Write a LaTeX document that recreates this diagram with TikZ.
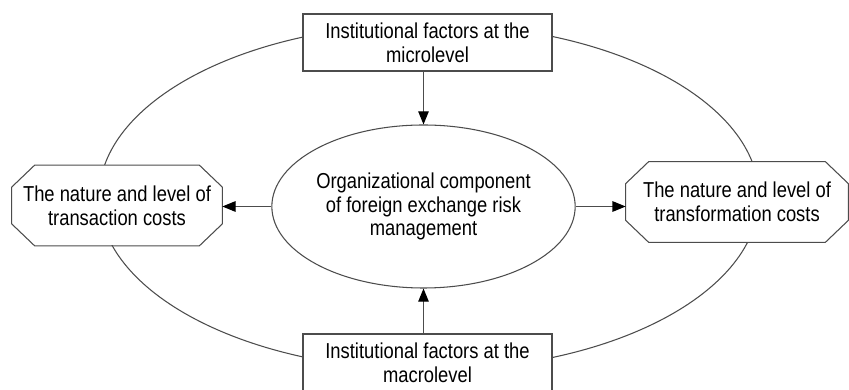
\documentclass[tikz,border=0pt]{standalone}
\usepackage{fontspec}
\setmainfont{Liberation Sans}[FakeStretch=0.85]
\usepackage{tikz}
\usetikzlibrary{positioning, shapes.geometric, arrows.meta}

\begin{document}
\begin{tikzpicture}[
        font=\fontsize{12.3}{13.6}\selectfont,
        line/.style={draw=black!70, line width=0.6pt},
        factor/.style={line, rectangle, fill=white, minimum width=4.98cm, minimum height=1.14cm, align=center, inner sep=0pt},
        cost/.style={rectangle, fill=white, minimum height=1.6cm, align=center, inner sep=0pt},
        core/.style={line, ellipse, fill=white, minimum width=6.06cm, minimum height=3.26cm, align=center, inner sep=0pt},
        arrow/.style={line, -{Triangle[length=7.5pt, width=6pt, black]}}
        ]
        \useasboundingbox (0,0) rectangle (16.98,7.8);

        % outer ring behind everything
        \node[line, ellipse, minimum width=13.2cm, minimum height=6.92cm] (ring) at (8.58,3.86) {};

        \node[core] (org) at (8.47,3.67) {Organizational component\\of foreign exchange risk\\management};
        \node[factor] (micro) at (8.55,6.95) {Institutional factors at the\\microlevel};
        \node[factor] (macro) at (8.55,0.55) {Institutional factors at the\\macrolevel};
        \node[cost, minimum width=4.2cm] (trans) at (2.34,3.69) {The nature and level of\\transaction costs};
        \node[cost, minimum width=4.44cm] (transf) at (14.74,3.76) {The nature and level of\\transformation costs};

        % cut corners of the two cost boxes
        \foreach \n in {trans, transf}
            \draw[line] ([xshift=0.46cm]\n.north west) -- ([xshift=-0.46cm]\n.north east)
                -- ([yshift=-0.44cm]\n.north east) -- ([yshift=0.44cm]\n.south east)
                -- ([xshift=-0.46cm]\n.south east) -- ([xshift=0.46cm]\n.south west)
                -- ([yshift=0.44cm]\n.south west) -- ([yshift=-0.44cm]\n.north west) -- cycle;

        \draw[arrow] (micro.south -| org.north) -- (org.north);
        \draw[arrow] (macro.north -| org.south) -- (org.south);
        \draw[arrow] (org.west) -- (org.west -| trans.east);
        \draw[arrow] (org.east) -- (org.east -| transf.west);
    \end{tikzpicture}
\end{document}
